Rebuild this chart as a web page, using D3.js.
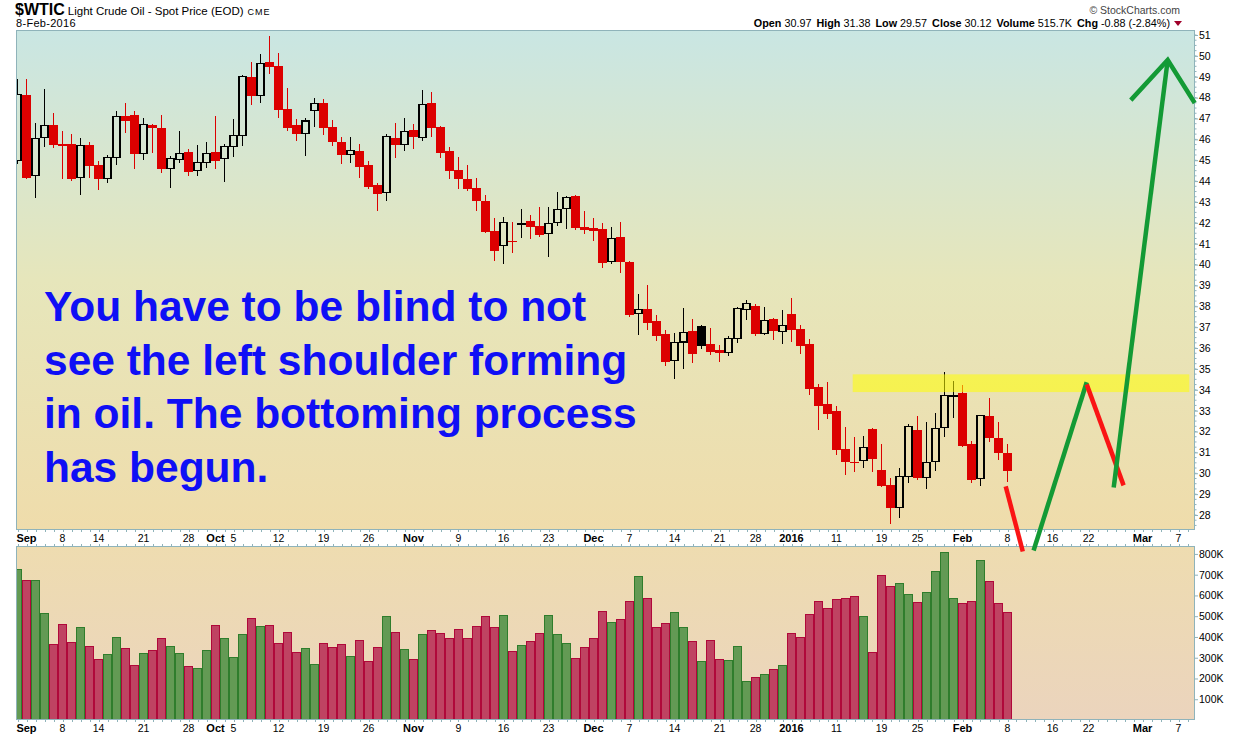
<!DOCTYPE html>
<html lang="en">
<head>
<meta charset="UTF-8">
<title>$WTIC Light Crude Oil</title>
<script src="https://cdn.jsdelivr.net/npm/d3@7"></script>
<style>
  body { margin: 0; background: #fff; }
  svg text { font-family: "Liberation Sans", Arial, sans-serif; }
</style>
</head>
<body>
<script>

// trading days on the chart (Aug 31 2015 .. Feb 8 2016)
var dates = [
  "2015-08-31",
  "2015-09-01", "2015-09-02", "2015-09-03", "2015-09-04", "2015-09-08", "2015-09-09", "2015-09-10", "2015-09-11",
  "2015-09-14", "2015-09-15", "2015-09-16", "2015-09-17", "2015-09-18", "2015-09-21", "2015-09-22", "2015-09-23",
  "2015-09-24", "2015-09-25", "2015-09-28", "2015-09-29", "2015-09-30",
  "2015-10-01", "2015-10-02", "2015-10-05", "2015-10-06", "2015-10-07", "2015-10-08", "2015-10-09", "2015-10-12",
  "2015-10-13", "2015-10-14", "2015-10-15", "2015-10-16", "2015-10-19", "2015-10-20", "2015-10-21", "2015-10-22",
  "2015-10-23", "2015-10-26", "2015-10-27", "2015-10-28", "2015-10-29", "2015-10-30",
  "2015-11-02", "2015-11-03", "2015-11-04", "2015-11-05", "2015-11-06", "2015-11-09", "2015-11-10", "2015-11-11",
  "2015-11-12", "2015-11-13", "2015-11-16", "2015-11-17", "2015-11-18", "2015-11-19", "2015-11-20", "2015-11-23",
  "2015-11-24", "2015-11-25", "2015-11-27", "2015-11-30",
  "2015-12-01", "2015-12-02", "2015-12-03", "2015-12-04", "2015-12-07", "2015-12-08", "2015-12-09", "2015-12-10",
  "2015-12-11", "2015-12-14", "2015-12-15", "2015-12-16", "2015-12-17", "2015-12-18", "2015-12-21", "2015-12-22",
  "2015-12-23", "2015-12-24", "2015-12-28", "2015-12-29", "2015-12-30", "2015-12-31",
  "2016-01-04", "2016-01-05", "2016-01-06", "2016-01-07", "2016-01-08", "2016-01-11", "2016-01-12", "2016-01-13",
  "2016-01-14", "2016-01-15", "2016-01-19", "2016-01-20", "2016-01-21", "2016-01-22", "2016-01-25", "2016-01-26",
  "2016-01-27", "2016-01-28", "2016-01-29",
  "2016-02-01", "2016-02-02", "2016-02-03", "2016-02-04", "2016-02-05", "2016-02-08"
];
// empty trading days to the right of the last bar
var futureDates = [
  "2016-02-09", "2016-02-10", "2016-02-11", "2016-02-12", "2016-02-16", "2016-02-17", "2016-02-18", "2016-02-19",
  "2016-02-22", "2016-02-23", "2016-02-24", "2016-02-25", "2016-02-26", "2016-02-29",
  "2016-03-01", "2016-03-02", "2016-03-03", "2016-03-04", "2016-03-07", "2016-03-08"
];

var open = [
  45.00, 48.12, 44.27, 46.09, 46.67, 45.80, 45.80, 44.18, 45.71, 44.76, 44.13, 45.13, 47.10, 47.16, 45.33, 46.68,
  46.54, 44.61, 45.04, 45.39, 44.51, 44.89, 45.39, 45.09, 45.66, 46.19, 48.99, 48.11, 49.71, 49.51, 47.45, 46.68,
  46.27, 47.37, 47.74, 46.59, 45.87, 45.28, 45.44, 44.76, 43.81, 43.46, 46.06, 45.76, 46.44, 46.09, 47.74, 46.59,
  45.44, 44.53, 44.09, 43.66, 43.04, 41.60, 40.91, 41.14, 41.96, 42.08, 41.87, 41.49, 42.02, 42.69, 43.28, 41.79,
  41.74, 41.70, 40.15, 41.31, 40.11, 37.65, 37.86, 37.28, 36.66, 35.40, 36.29, 36.80, 37.04, 36.18, 35.89, 35.78,
  36.45, 37.84, 38.00, 36.69, 37.38, 36.79, 37.62, 36.90, 36.18, 34.12, 33.30, 32.97, 31.14, 30.56, 30.60, 32.10,
  30.18, 29.46, 28.35, 29.83, 32.06, 29.79, 30.55, 32.18, 33.70, 33.83, 31.38, 29.74, 32.73, 31.67, 30.97
];
var high = [
  48.90, 48.89, 46.77, 48.40, 47.24, 46.40, 46.25, 46.05, 45.87, 44.96, 45.24, 47.35, 47.74, 47.35, 47.02, 46.73,
  47.16, 45.20, 46.40, 45.53, 45.72, 45.87, 47.12, 45.80, 46.97, 49.08, 49.71, 50.09, 50.95, 50.14, 48.44, 46.97,
  47.02, 47.96, 47.93, 46.92, 46.11, 46.11, 45.77, 44.96, 43.89, 46.25, 46.77, 47.02, 46.73, 48.36, 48.27, 46.64,
  45.63, 45.15, 44.76, 44.14, 43.33, 42.22, 42.27, 42.03, 42.65, 42.37, 42.75, 42.75, 43.47, 43.28, 43.33, 42.59,
  42.22, 41.98, 41.79, 42.03, 40.16, 38.58, 39.01, 37.57, 36.85, 36.72, 37.92, 37.38, 37.10, 36.95, 36.13, 36.56,
  37.95, 38.29, 38.10, 37.95, 37.44, 37.81, 38.39, 37.09, 36.41, 34.26, 34.36, 33.21, 32.20, 31.72, 31.77, 32.15,
  31.38, 29.75, 30.27, 32.34, 32.73, 32.44, 32.87, 34.84, 34.40, 34.21, 31.53, 32.76, 33.59, 32.44, 31.38
];
var low = [
  44.80, 44.09, 43.20, 45.64, 45.59, 44.09, 44.01, 43.34, 44.16, 43.57, 43.90, 44.78, 46.31, 44.59, 45.02, 45.35,
  44.40, 43.68, 44.85, 44.25, 44.25, 44.64, 44.59, 43.96, 45.17, 45.69, 47.64, 47.75, 49.14, 47.03, 46.40, 45.92,
  45.21, 46.60, 46.22, 45.68, 44.83, 44.86, 44.16, 43.63, 42.56, 43.05, 45.12, 45.45, 45.55, 45.93, 46.12, 45.12,
  44.11, 43.63, 43.53, 42.57, 41.50, 40.18, 40.03, 40.56, 41.28, 41.22, 41.33, 40.37, 41.87, 41.71, 41.66, 41.47,
  41.13, 39.84, 40.03, 39.60, 37.49, 36.63, 36.87, 36.34, 35.14, 34.52, 35.00, 35.28, 35.95, 35.68, 35.33, 35.62,
  36.24, 37.36, 36.58, 36.62, 36.39, 36.19, 36.29, 35.71, 33.75, 32.07, 32.60, 30.87, 29.91, 30.06, 30.25, 30.06,
  29.33, 27.56, 27.85, 29.53, 29.66, 29.24, 30.10, 31.73, 32.65, 31.24, 29.53, 29.38, 31.48, 30.63, 29.57
];
var close = [
  48.17, 44.16, 46.05, 46.67, 45.74, 45.69, 44.11, 45.71, 44.73, 44.11, 45.13, 47.10, 46.89, 45.31, 46.72, 46.56,
  44.59, 45.09, 45.33, 44.44, 44.89, 45.33, 44.97, 45.66, 46.19, 49.02, 48.09, 49.64, 49.48, 47.42, 46.55, 46.27,
  46.88, 47.72, 46.55, 45.88, 45.26, 45.47, 44.68, 43.72, 43.39, 46.14, 45.74, 46.38, 46.09, 47.68, 46.55, 45.36,
  44.49, 44.11, 43.63, 43.05, 41.57, 40.66, 42.02, 41.10, 41.98, 41.81, 41.42, 41.97, 42.64, 43.22, 41.76, 41.66,
  41.61, 40.08, 41.25, 40.13, 37.58, 37.84, 37.20, 36.58, 35.33, 36.26, 36.74, 35.71, 36.10, 35.81, 35.76, 36.45,
  37.89, 38.13, 36.67, 37.32, 36.82, 37.08, 36.87, 36.10, 34.04, 33.22, 32.84, 31.11, 30.53, 30.50, 31.22, 30.68,
  29.38, 28.33, 29.83, 32.25, 29.75, 30.51, 32.14, 33.72, 33.74, 31.30, 29.67, 32.76, 31.69, 30.97, 30.12
];
// volume in thousands
var volume = [
  723, 670, 670, 515, 365, 461, 374, 447, 355, 292, 316, 398, 345, 263, 321, 336,
  394, 355, 321, 259, 249, 336, 456, 394, 302, 413, 490, 451, 456, 369, 422, 326,
  345, 268, 369, 350, 365, 307, 384, 283, 350, 500, 422, 340, 292, 413, 432, 418,
  394, 437, 394, 451, 500, 447, 504, 331, 360, 379, 418, 504, 413, 369, 297, 350,
  394, 524, 471, 485, 572, 692, 586, 447, 466, 519, 447, 379, 283, 384, 292, 288,
  355, 186, 206, 220, 244, 263, 418, 398, 509, 572, 538, 581, 586, 596, 500, 326,
  697, 644, 658, 605, 567, 615, 716, 808, 586, 562, 572, 769, 668, 562, 515.7
];

// date axis labels
var tickDates = [
  "2015-09-01", "2015-09-08", "2015-09-14", "2015-09-21", "2015-09-28", "2015-10-01", "2015-10-05", "2015-10-12",
  "2015-10-19", "2015-10-26", "2015-11-02", "2015-11-09", "2015-11-16", "2015-11-23", "2015-12-01", "2015-12-07",
  "2015-12-14", "2015-12-21", "2015-12-28", "2016-01-04", "2016-01-11", "2016-01-19", "2016-01-25", "2016-02-01",
  "2016-02-08", "2016-02-16", "2016-02-22", "2016-03-01", "2016-03-07"
];
var tickLabels = [
  "Sep", "8", "14", "21", "28", "Oct", "5", "12", "19", "26", "Nov", "9", "16", "23", "Dec", "7",
  "14", "21", "28", "2016", "11", "19", "25", "Feb", "8", "16", "22", "Mar", "7"
];
var priceTicks = d3.range(28, 52);
var volumeTicks = [100, 200, 300, 400, 500, 600, 700, 800];

// header
var lastDate = "8-Feb-2016";
var infoLabels = ["Open", "High", "Low", "Close", "Volume", "Chg"];
var infoValues = ["30.97", "31.38", "29.57", "30.12", "515.7K", "-0.88 (-2.84%)"];

// hand drawn projection, as [day index, price]
var redPath1 = [[109.8, 29.37], [111.7, 26.25]];
var greenPath1 = [[112.9, 26.30], [118.8, 34.36]];
var redPath2 = [[118.8, 34.26], [122.9, 29.42]];
var greenPath2 = [[121.8, 29.32], [127.8, 49.80]];
var greenPath3 = [[123.7, 47.88], [127.8, 49.80], [130.8, 47.74]];
// resistance band
var zoneStart = 92.8, zoneEnd = 130.2, zoneLow = 33.89, zoneHigh = 34.74;

var noteLines = [
  "You have to be blind to not",
  "see the left shoulder forming",
  "in oil. The bottoming process",
  "has begun."
];

// ---------------------------------------------------------------
var main = { left: 16, right: 1195, top: 30, bottom: 530 };
var vol = { left: 16, right: 1195, top: 546, bottom: 720 };
var frame = "#8fb3ba";

var allDates = dates.concat(futureDates);
var dayIndex = {};
allDates.forEach(function (d, i) { dayIndex[d] = i; });

var x = d3.scaleLinear().domain([0, allDates.length - 1]).range([17.5, 17.5 + 9 * (allDates.length - 1)]);
var y = d3.scaleLinear().domain([28, 51]).range([515, 35]);
var yv = d3.scaleLinear().domain([0, 800]).range([720, 720 - 8 * 20.76]);

var svg = d3.select("body").append("svg")
  .attr("width", 1240)
  .attr("height", 737);

var defs = svg.append("defs");
function gradient(id, stops) {
  var g = defs.append("linearGradient").attr("id", id)
    .attr("x1", 0).attr("y1", 0).attr("x2", 0).attr("y2", 1);
  stops.forEach(function (s) {
    g.append("stop").attr("offset", s[0]).attr("stop-color", s[1]);
  });
}
gradient("bgMain", [["0%", "#c9e6e3"], ["50%", "#e6e6bb"], ["100%", "#efdcab"]]);
gradient("bgVol", [["0%", "#eedcb0"], ["100%", "#ebd4bd"]]);

defs.append("clipPath").attr("id", "clipMain").append("rect")
  .attr("x", main.left).attr("y", main.top)
  .attr("width", main.right - main.left).attr("height", main.bottom - main.top);
defs.append("clipPath").attr("id", "clipVol").append("rect")
  .attr("x", vol.left).attr("y", vol.top)
  .attr("width", vol.right - vol.left).attr("height", vol.bottom - vol.top);

// panel backgrounds
svg.append("rect")
  .attr("x", main.left).attr("y", main.top)
  .attr("width", main.right - main.left).attr("height", main.bottom - main.top)
  .attr("fill", "url(#bgMain)");
svg.append("rect")
  .attr("x", vol.left).attr("y", vol.top)
  .attr("width", vol.right - vol.left).attr("height", vol.bottom - vol.top)
  .attr("fill", "url(#bgVol)");

var bars = dates.map(function (d, i) {
  return {
    i: i, o: open[i], h: high[i], l: low[i], c: close[i], v: volume[i],
    pc: i > 0 ? close[i - 1] : open[i]
  };
});

// candles
var candles = svg.append("g")
  .attr("clip-path", "url(#clipMain)")
  .attr("shape-rendering", "crispEdges");

bars.forEach(function (b) {
  var col = b.c >= b.pc ? "#000000" : "#dc0000";
  var hollow = b.c > b.o;
  var cx = x(b.i);
  var top = y(Math.max(b.o, b.c));
  var bot = y(Math.min(b.o, b.c));
  if (bot - top < 1) { bot = top + 1; }

  candles.append("line")
    .attr("x1", cx).attr("x2", cx)
    .attr("y1", y(b.h)).attr("y2", top)
    .attr("stroke", col).attr("stroke-width", 1.2);
  candles.append("line")
    .attr("x1", cx).attr("x2", cx)
    .attr("y1", bot).attr("y2", y(b.l))
    .attr("stroke", col).attr("stroke-width", 1.2);

  if (hollow) {
    candles.append("rect")
      .attr("x", cx - 3.5).attr("y", top)
      .attr("width", 7).attr("height", bot - top)
      .attr("fill", "none").attr("stroke", col).attr("stroke-width", 1.1);
  } else {
    candles.append("rect")
      .attr("x", cx - 4.5).attr("y", top)
      .attr("width", 9).attr("height", bot - top)
      .attr("fill", col);
  }
});

// resistance band
svg.append("rect")
  .attr("x", x(zoneStart)).attr("y", y(zoneHigh))
  .attr("width", x(zoneEnd) - x(zoneStart)).attr("height", y(zoneLow) - y(zoneHigh))
  .attr("fill", "#ffff00").attr("opacity", 0.55);

// volume bars
svg.append("g")
  .attr("clip-path", "url(#clipVol)")
  .attr("shape-rendering", "crispEdges")
  .selectAll("rect")
  .data(bars)
  .enter()
  .append("rect")
  .attr("x", function (b) { return x(b.i) - 4; })
  .attr("y", function (b) { return yv(b.v); })
  .attr("width", 8)
  .attr("height", function (b) { return yv(0) - yv(b.v); })
  .attr("fill", function (b) { return b.c >= b.pc ? "#639a54" : "#bf4362"; })
  .attr("stroke", function (b) { return b.c >= b.pc ? "#2f7d2c" : "#b0083a"; })
  .attr("stroke-width", 1);

// panel frames
[main, vol].forEach(function (p) {
  svg.append("rect")
    .attr("x", p.left + 0.5).attr("y", p.top + 0.5)
    .attr("width", p.right - p.left - 1).attr("height", p.bottom - p.top - 1)
    .attr("fill", "none").attr("stroke", frame).attr("stroke-width", 1);
});

// small day ticks along the date bands
var dayTicks = svg.append("g").attr("stroke", frame).attr("shape-rendering", "crispEdges");
allDates.forEach(function (d, i) {
  var px = Math.round(x(i)) + 0.5;
  if (px < main.left || px > main.right) return;
  [[main.bottom, main.bottom + 2], [vol.top - 2, vol.top], [vol.bottom, vol.bottom + 2]].forEach(function (s) {
    dayTicks.append("line").attr("x1", px).attr("x2", px).attr("y1", s[0]).attr("y2", s[1]);
  });
});

// price axis
var yAxis = d3.axisRight(y).tickValues(priceTicks).tickSize(3).tickPadding(1)
  .tickFormat(d3.format("d"));
var yg = svg.append("g")
  .attr("transform", "translate(" + main.right + ",0)")
  .call(yAxis);
yg.select(".domain").remove();
yg.selectAll("line").attr("stroke", frame);
yg.selectAll("text").attr("font-size", "10.5px").attr("fill", "#000").attr("font-family", "Liberation Sans, Arial");
svg.append("g").attr("stroke", frame)
  .selectAll("line")
  .data(d3.range(27.5, 51.25, 0.25))
  .enter().append("line")
  .attr("x1", main.right).attr("x2", main.right + 1.5)
  .attr("y1", function (d) { return y(d); }).attr("y2", function (d) { return y(d); });

// volume axis
var vAxis = d3.axisRight(yv).tickValues(volumeTicks).tickSize(3).tickPadding(1)
  .tickFormat(function (d) { return d + "K"; });
var vg = svg.append("g")
  .attr("transform", "translate(" + vol.right + ",0)")
  .call(vAxis);
vg.select(".domain").remove();
vg.selectAll("line").attr("stroke", frame);
vg.selectAll("text").attr("font-size", "10.5px").attr("fill", "#000").attr("font-family", "Liberation Sans, Arial");

// date labels, once under each panel
[542, 732].forEach(function (base) {
  svg.append("g")
    .selectAll("text")
    .data(tickLabels)
    .enter()
    .append("text")
    .attr("x", function (d, i) { return x(dayIndex[tickDates[i]]); })
    .attr("y", base)
    .attr("text-anchor", "middle")
    .attr("font-size", function (d) { return /^\d{1,2}$/.test(d) ? "10.5px" : "11px"; })
    .attr("font-weight", function (d) { return /^\d{1,2}$/.test(d) ? "normal" : "bold"; })
    .attr("fill", "#000")
    .text(function (d) { return d; });
});

// projection lines
var pathLine = d3.line()
  .x(function (d) { return x(d[0]); })
  .y(function (d) { return y(d[1]); });
[[redPath1, "#fa1414"], [greenPath1, "#139a35"], [redPath2, "#fa1414"],
 [greenPath2, "#139a35"], [greenPath3, "#139a35"]].forEach(function (p) {
  svg.append("path")
    .datum(p[0])
    .attr("d", pathLine)
    .attr("fill", "none")
    .attr("stroke", p[1])
    .attr("stroke-width", 4.5)
    .attr("stroke-linejoin", "miter");
});

// big note
svg.append("g")
  .selectAll("text")
  .data(noteLines)
  .enter()
  .append("text")
  .attr("x", 44)
  .attr("y", function (d, i) { return 321 + i * 53.7; })
  .attr("font-size", "42.5px")
  .attr("font-weight", "bold")
  .attr("fill", "#0f0ff5")
  .text(function (d) { return d; });

// header
var title = svg.append("text").attr("x", 15).attr("y", 14.5).attr("fill", "#000");
title.append("tspan").attr("font-size", "16px").attr("font-weight", "bold").text("$WTIC");
title.append("tspan").attr("font-size", "11.5px").attr("dx", 3).text("Light Crude Oil - Spot Price (EOD)");
title.append("tspan").attr("font-size", "9px").attr("dx", 4).attr("letter-spacing", "1px").text("CME");
svg.append("text").attr("x", 16).attr("y", 27).attr("font-size", "11px").attr("letter-spacing", "0.3px")
  .text(lastDate);

svg.append("text").attr("x", 1180).attr("y", 14).attr("text-anchor", "end")
  .attr("font-size", "10.5px").attr("fill", "#444").text("\u00a9 StockCharts.com");

var info = svg.append("text").attr("x", 1170).attr("y", 27).attr("text-anchor", "end")
  .attr("font-size", "10.8px").attr("fill", "#000");
infoLabels.forEach(function (lab, i) {
  info.append("tspan").attr("font-weight", "bold").attr("dx", i === 0 ? 0 : 5).text(lab);
  info.append("tspan").text(" " + infoValues[i]);
});
svg.append("path")
  .attr("d", "M1174,21 L1182,21 L1178,26 Z")
  .attr("fill", "#a0002a");

</script>
</body>
</html>
